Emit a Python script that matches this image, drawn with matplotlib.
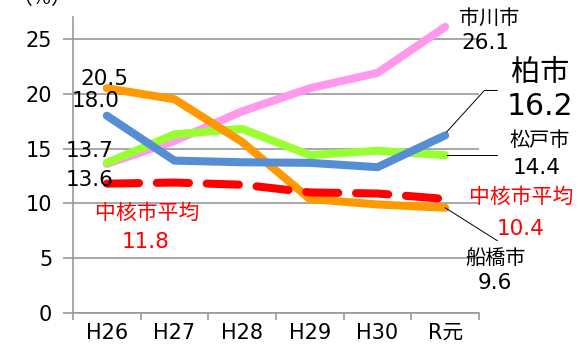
import matplotlib.pyplot as plt

plt.rcParams['font.family'] = ['DejaVu Sans', 'Noto Sans CJK JP']

years = ['H26', 'H27', 'H28', 'H29', 'H30', 'R元']
ichikawa = [13.6, 15.7, 18.4, 20.5, 21.9, 26.1]
kashiwa = [18.0, 13.9, 13.75, 13.7, 13.3, 16.2]
matsudo = [13.7, 16.3, 16.8, 14.4, 14.8, 14.4]
funabashi = [20.5, 19.5, 15.6, 10.4, 9.9, 9.6]
chukaku = [11.8, 11.9, 11.7, 11.0, 10.9, 10.4]

fig = plt.figure(figsize=(5.82, 3.5), dpi=100)
ax = fig.add_axes([0.1254, 0.1057, 0.6976, 0.8457])

x = list(range(len(years)))
lw = 5.8
ax.plot(x, ichikawa, color='#ff99ee', lw=lw, solid_capstyle='round', zorder=3)
ax.plot(x, matsudo, color='#99ff33', lw=lw, solid_capstyle='round', zorder=4)
ax.plot(x, funabashi, color='#ff9900', lw=lw, solid_capstyle='round', zorder=5)
ax.plot(x, kashiwa, color='#558ed5', lw=lw, solid_capstyle='round', zorder=6)
ax.plot(x, chukaku, color='#ff0000', lw=lw, dashes=(4, 2.2), dash_capstyle='round', zorder=7)

ax.set_xlim(-0.5, 5.5)
ax.set_ylim(0, 27)
ax.set_yticks([0, 5, 10, 15, 20, 25])
ax.set_xticks(x)
ax.set_xticklabels(years)
ax.set_xticks([i - 0.5 for i in range(7)], minor=True)
ax.tick_params(axis='x', which='major', length=0, pad=7, labelsize=15)
ax.tick_params(axis='x', which='minor', length=5, color='#999999', width=1.2)
ax.tick_params(axis='y', length=7, color='#999999', width=1.2, pad=8, labelsize=15)
ax.grid(axis='y', color='#999999', lw=1.2, zorder=0)
for s in ['top', 'right']:
    ax.spines[s].set_visible(False)
for s in ['left', 'bottom']:
    ax.spines[s].set_color('#999999')
    ax.spines[s].set_linewidth(1.2)

jp = 'Noto Sans CJK JP'
fig.text(0.02, 1.005, '（%）', fontsize=15, ha='left', va='center', family=jp)

# start labels
tk = dict(fontsize=15.5, color='black', zorder=10)
ax.text(-0.03, 21.3, '20.5', ha='center', va='center', **tk)
ax.text(-0.17, 19.3, '18.0', ha='center', va='center', **tk)
ax.text(-0.25, 14.8, '13.7', ha='center', va='center', **tk)
ax.text(-0.25, 12.1, '13.6', ha='center', va='center', **tk)
ax.text(0.59, 9.1, '中核市平均', ha='center', va='center', fontsize=15, color='red', family=jp)
ax.text(0.58, 6.45, '11.8', ha='center', va='center', fontsize=15.5, color='red')

# end labels
ax.text(5.65, 26.9, '市川市', ha='center', va='center', fontsize=14.5, family=jp, clip_on=False)
ax.text(5.6, 24.6, '26.1', ha='center', va='center', fontsize=15.5, clip_on=False)
ax.text(6.4, 21.9, '柏市', ha='center', va='center', fontsize=21, family=jp, clip_on=False)
ax.text(6.4, 18.8, '16.2', ha='center', va='center', fontsize=21.5, clip_on=False)
ax.text(6.39, 15.7, '松戸市', ha='center', va='center', fontsize=14.5, family=jp, clip_on=False)
ax.text(6.35, 13.2, '14.4', ha='center', va='center', fontsize=15.5, clip_on=False)
ax.text(6.12, 10.6, '中核市平均', ha='center', va='center', fontsize=15, color='red', family=jp, clip_on=False)
ax.text(6.11, 7.7, '10.4', ha='center', va='center', fontsize=15.5, color='red', clip_on=False)
ax.text(5.74, 5.0, '船橋市', ha='center', va='center', fontsize=14.5, family=jp, clip_on=False)
ax.text(5.74, 2.7, '9.6', ha='center', va='center', fontsize=15.5, clip_on=False)

# leader lines
ax.plot([5.02, 5.58, 5.77], [16.5, 20.3, 20.3], color='black', lw=0.7, clip_on=False, zorder=9)
ax.plot([5.03, 5.77], [14.4, 14.4], color='black', lw=0.7, clip_on=False, zorder=9)
ax.plot([5.0, 5.77], [9.6, 6.6], color='black', lw=0.7, clip_on=False, zorder=9)

fig.savefig('out.png', dpi=100)
